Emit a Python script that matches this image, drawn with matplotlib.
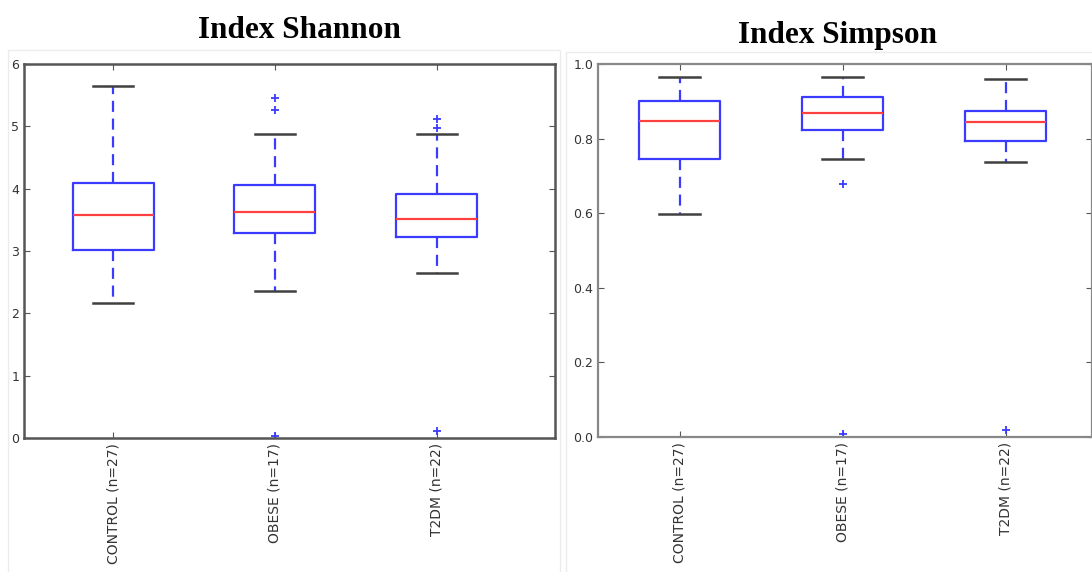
import matplotlib
matplotlib.use('Agg')
import matplotlib.pyplot as plt
from matplotlib.patches import Rectangle

# --- data (box stats per group) ---
groups = ['CONTROL (n=27)', 'OBESE (n=17)', 'T2DM (n=22)']

shannon_whislo = [2.17, 2.36, 2.65]
shannon_q1 = [3.02, 3.29, 3.22]
shannon_med = [3.57, 3.63, 3.51]
shannon_q3 = [4.09, 4.06, 3.92]
shannon_whishi = [5.65, 4.87, 4.87]
shannon_fliers = [[], [5.45, 5.27, 0.04], [5.11, 4.98, 0.11]]

simpson_whislo = [0.599, 0.744, 0.738]
simpson_q1 = [0.745, 0.824, 0.794]
simpson_med = [0.847, 0.868, 0.845]
simpson_q3 = [0.901, 0.911, 0.874]
simpson_whishi = [0.964, 0.964, 0.959]
simpson_fliers = [[], [0.678, 0.007], [0.018]]


def make_stats(lo, q1, med, q3, hi, fl):
    stats = []
    for i in range(len(groups)):
        stats.append({'whislo': lo[i], 'q1': q1[i], 'med': med[i], 'q3': q3[i],
                      'whishi': hi[i], 'fliers': fl[i], 'label': groups[i]})
    return stats


def draw(ax, stats, spine_col, spine_w):
    ax.bxp(stats, positions=[1, 2, 3], widths=0.5, capwidths=0.25,
           boxprops=dict(color='#3b3bff', linewidth=1.6),
           whiskerprops=dict(color='#3b3bff', linewidth=1.6, linestyle=(0, (5, 3))),
           capprops=dict(color='#404040', linewidth=1.8),
           medianprops=dict(color='#ff4040', linewidth=1.6),
           flierprops=dict(marker='+', markeredgecolor='#3b3bff', markersize=6,
                           markeredgewidth=1.3, linestyle='none'))
    ax.tick_params(axis='both', direction='in', top=True, right=True,
                   colors='#555555', labelcolor='#333333', labelsize=9, length=4)
    ax.tick_params(axis='x', rotation=90, labelsize=10)
    for s in ax.spines.values():
        s.set_color(spine_col)
        s.set_linewidth(spine_w)


fig = plt.figure(figsize=(10.92, 5.72), dpi=100)
W, H = 1092, 572

# faint frames of the two pasted panels
fig.patches.append(Rectangle((8 / W, -0.01), 552 / W, (H - 50) / H + 0.01,
                             transform=fig.transFigure, fill=False,
                             edgecolor='#ececec', linewidth=1))
fig.patches.append(Rectangle((566 / W, -0.01), 540 / W, (H - 52) / H + 0.01,
                             transform=fig.transFigure, fill=False,
                             edgecolor='#ececec', linewidth=1))

ax1 = fig.add_axes([24 / W, (H - 438) / H, 531 / W, 374 / H])
draw(ax1, make_stats(shannon_whislo, shannon_q1, shannon_med, shannon_q3,
                     shannon_whishi, shannon_fliers), '#555555', 1.8)
ax1.set_ylim(0, 6)
ax1.set_xlim(0.45, 3.73)
fig.text(300 / W, 1 - 31 / H, 'Index Shannon', ha='center', va='center',
         family='Liberation Serif', fontweight='bold', fontsize=22.5)

ax2 = fig.add_axes([598 / W, (H - 437) / H, 494 / W, 373 / H])
draw(ax2, make_stats(simpson_whislo, simpson_q1, simpson_med, simpson_q3,
                     simpson_whishi, simpson_fliers), '#888888', 1.6)
ax2.set_ylim(0, 1.0)
ax2.set_xlim(0.5, 3.53)
ax2.set_yticks([0.0, 0.2, 0.4, 0.6, 0.8, 1.0])
fig.text(838 / W, 1 - 36 / H, 'Index Simpson', ha='center', va='center',
         family='Liberation Serif', fontweight='bold', fontsize=22.5)

fig.savefig('out.png', dpi=100)
